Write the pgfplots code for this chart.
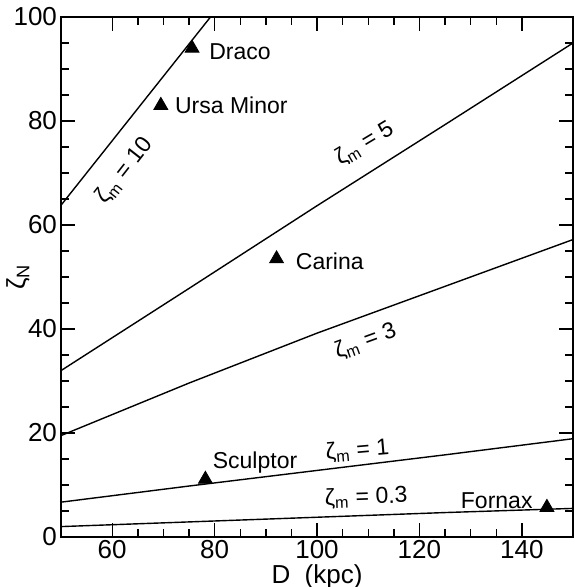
\documentclass[border=0pt]{standalone}
\usepackage{fontspec}
\setmainfont{Liberation Sans}
\usepackage{pgfplots}
\pgfplotsset{compat=1.18}
\begin{document}
\begin{tikzpicture}
\begin{axis}[
  width=256pt, height=260pt, scale only axis,
  xmin=50, xmax=150, ymin=0, ymax=100,
  xtick={60,80,100,120,140}, ytick={0,20,40,60,80,100},
  minor x tick num=3, minor y tick num=3,
  tick align=inside, tick pos=both,
  major tick length=7pt, minor tick length=4pt,
  every tick/.style={black, line width=0.7pt},
  axis line style={line width=0.8pt},
  xlabel={D\ \ (kpc)}, ylabel={ζ\textsubscript{N}},
  every axis y label/.style={at={(axis description cs:0,0.5)}, xshift=-21.5pt, anchor=center, rotate=90},
  every axis x label/.style={at={(axis description cs:0.5,0)}, anchor=center, inner sep=0pt, yshift=-20pt},
  /pgf/number format/assume math mode=true,
  ticklabel style={font=\fontsize{13}{15}\selectfont},
  xticklabel style={inner sep=1.5pt},
  yticklabel style={xshift=1.5pt},
  label style={font=\fontsize{13}{15}\selectfont},
  clip=true,
]
% zeta_m = 10
\addplot[black, line width=0.7pt] coordinates {(50,63.8) (60,76.2) (70,88.6) (79.2,100)};
% zeta_m = 5
\addplot[black, line width=0.7pt] coordinates {(50,32) (75,47.8) (100,63.7) (125,79.3) (150,95)};
% zeta_m = 3
\addplot[black, line width=0.7pt] coordinates {(50,19.5) (75,29.6) (100,39.2) (125,48.2) (150,57.2)};
% zeta_m = 1
\addplot[black, line width=0.7pt] coordinates {(50,6.7) (75,9.8) (100,12.8) (125,15.8) (150,18.9)};
% zeta_m = 0.3
\addplot[black, line width=0.7pt] coordinates {(50,2.0) (75,2.9) (100,3.8) (125,4.7) (150,5.5)};
% galaxies
\addplot[only marks, mark=triangle*, mark size=4pt, black] coordinates {
  (75.6,94) (69.5,83) (92.1,53.5) (78.2,11.1) (144.9,5.7)};
\node[anchor=west, font=\fontsize{11.5}{13}\selectfont] at (axis cs:77.6,93.3) {Draco};
\node[anchor=west, font=\fontsize{11.5}{13}\selectfont] at (axis cs:70.9,83) {Ursa Minor};
\node[anchor=west, font=\fontsize{11.5}{13}\selectfont] at (axis cs:94.5,53) {Carina};
\node[font=\fontsize{11.5}{13}\selectfont] at (axis cs:87.9,14.3) {Sculptor};
\node[font=\fontsize{11.5}{13}\selectfont] at (axis cs:135.1,6.9) {Fornax};
\node[rotate=52, inner sep=1pt, font=\fontsize{11.5}{13}\selectfont] at (axis cs:62.4,70.4) {ζ\textsubscript{m} = 10};
\node[rotate=31, inner sep=1pt, font=\fontsize{11.5}{13}\selectfont] at (axis cs:109.3,75.6) {ζ\textsubscript{m} = 5};
\node[rotate=20, inner sep=1pt, font=\fontsize{11.5}{13}\selectfont] at (axis cs:109.5,37.6) {ζ\textsubscript{m} = 3};
\node[rotate=5, inner sep=1pt, font=\fontsize{11.5}{13}\selectfont] at (axis cs:107.9,16.6) {ζ\textsubscript{m} = 1};
\node[rotate=2, inner sep=1pt, font=\fontsize{11.5}{13}\selectfont] at (axis cs:109.6,7.6) {ζ\textsubscript{m} = 0.3};
\end{axis}
\pgfresetboundingbox
\path[use as bounding box] ([xshift=-30.5pt,yshift=-25pt]current axis.south west) rectangle ([xshift=0.5pt,yshift=8.5pt]current axis.north east);
\end{tikzpicture}
\end{document}
